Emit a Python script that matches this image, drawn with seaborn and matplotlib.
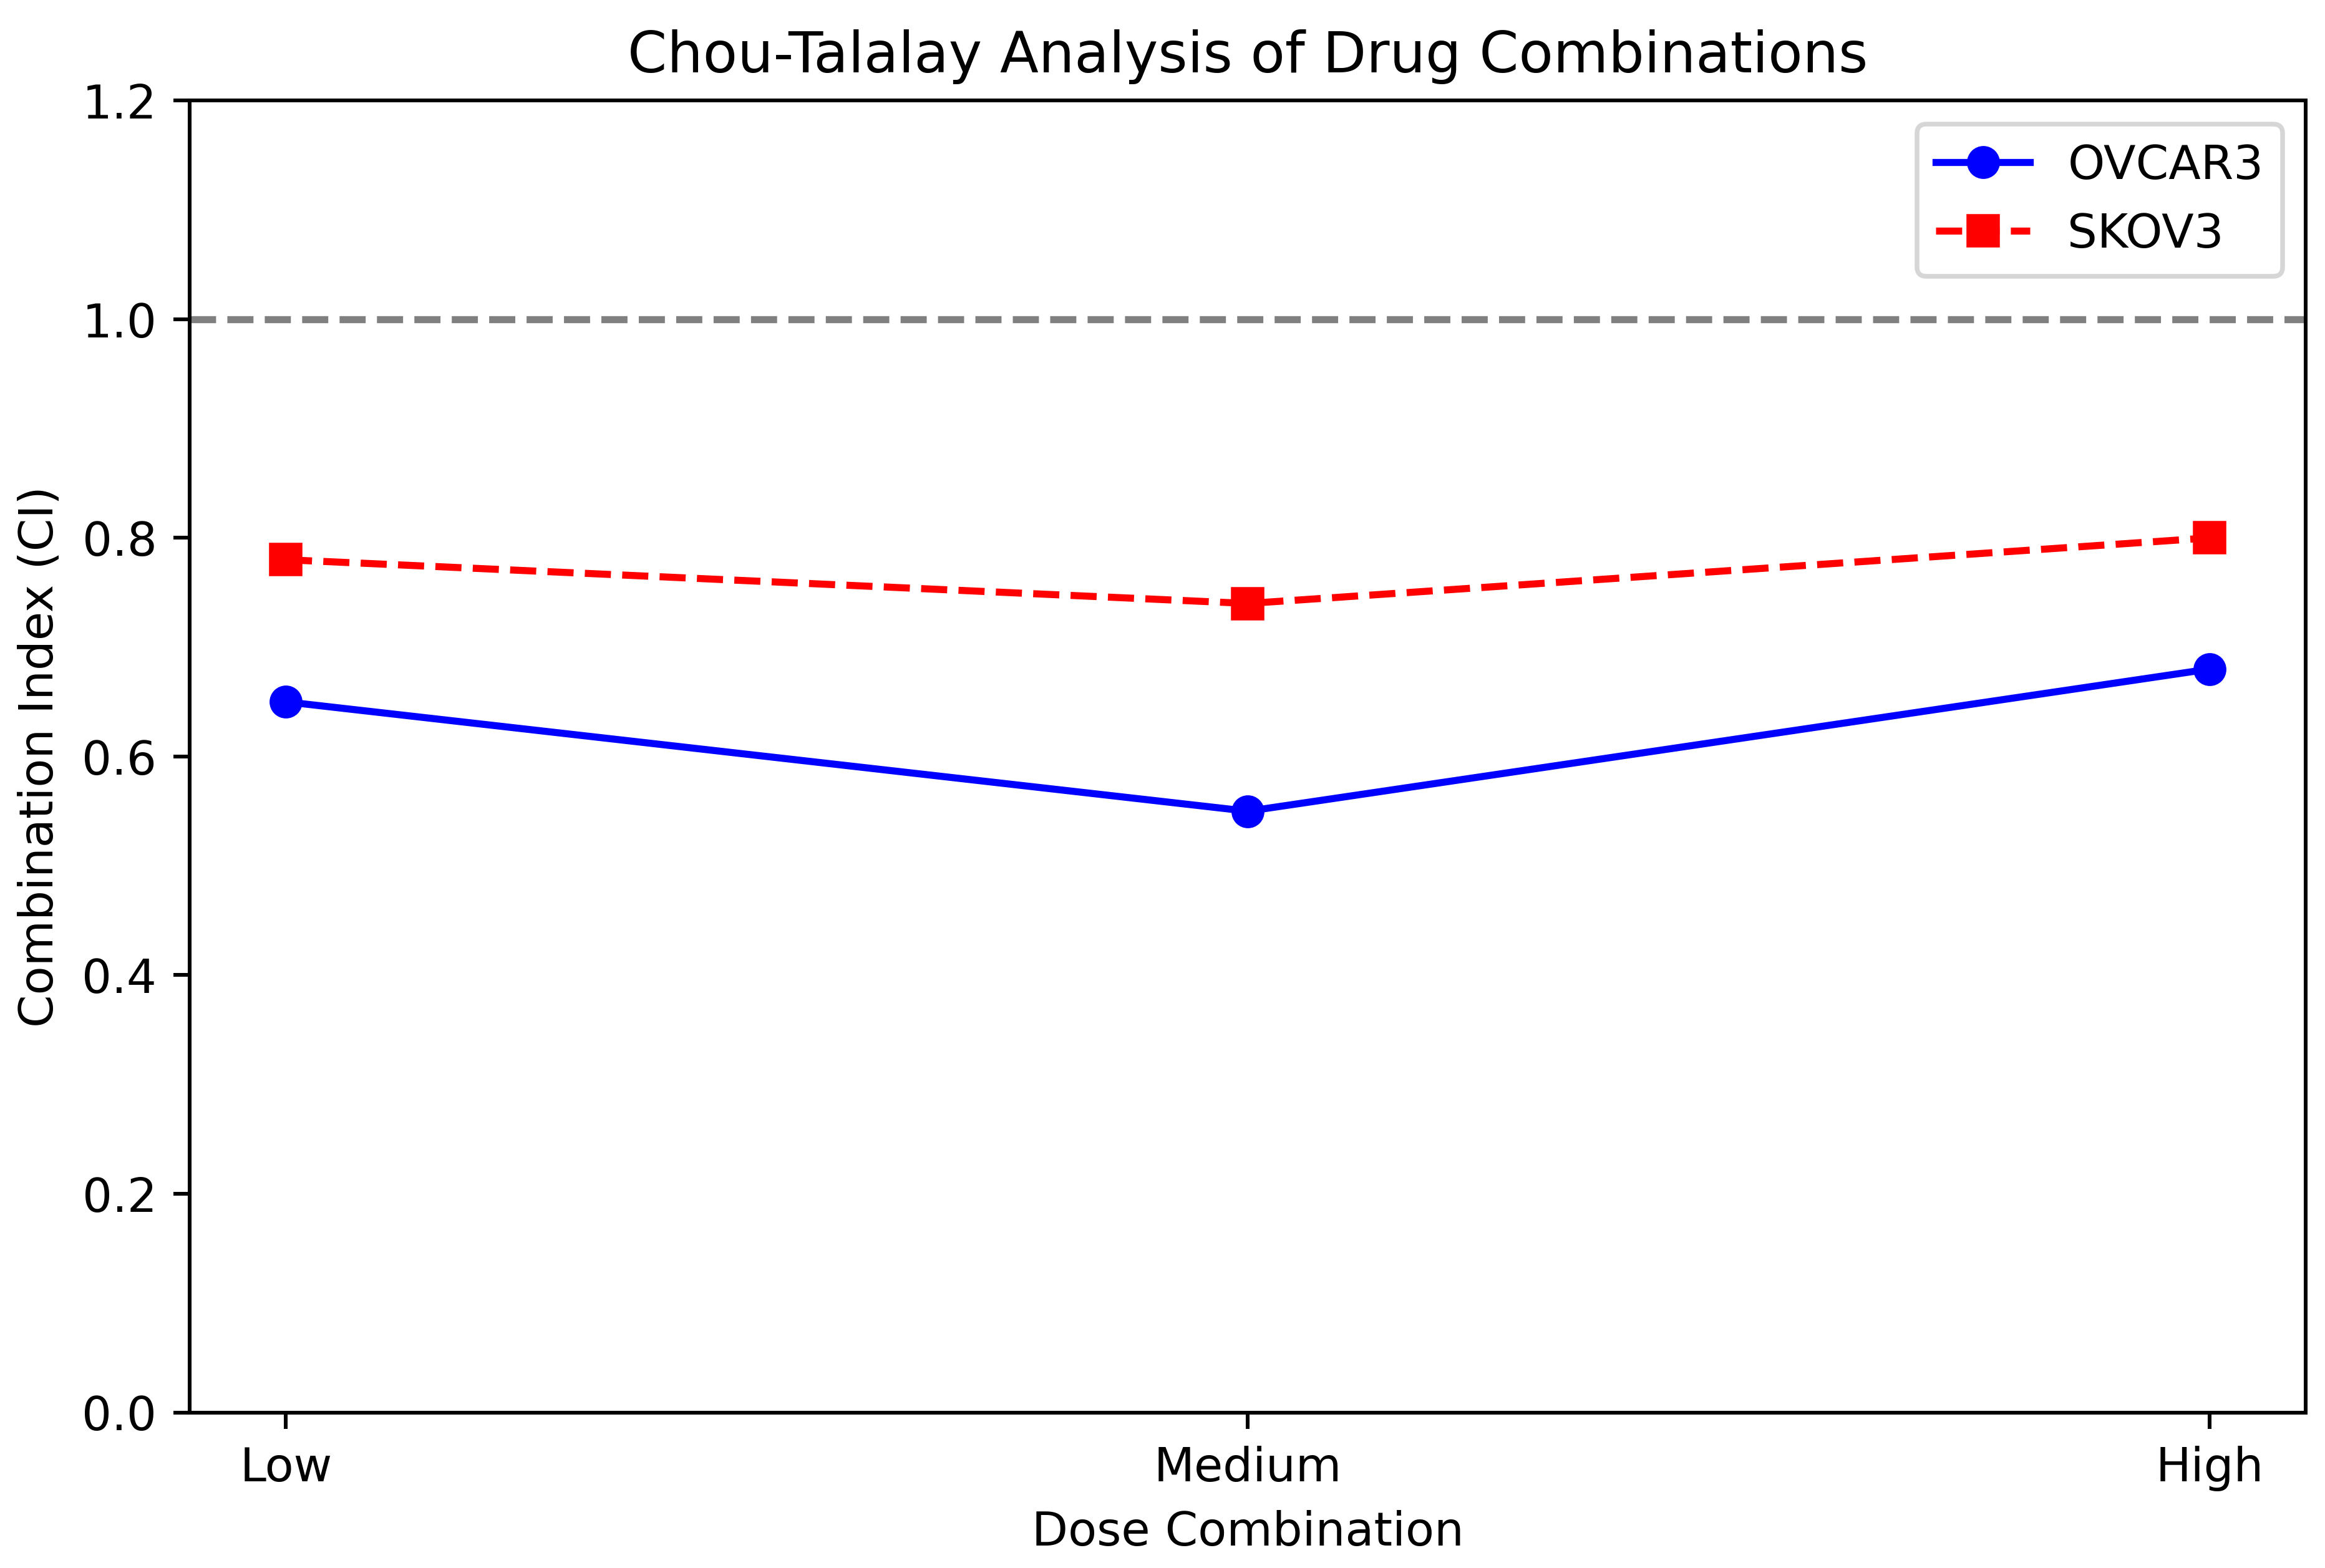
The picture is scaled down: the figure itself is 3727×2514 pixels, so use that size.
import matplotlib
matplotlib.use("Agg")
import matplotlib.pyplot as plt
import seaborn as sns

doses = ["Low", "Medium", "High"]
ovcar3_ci = [0.65, 0.55, 0.68]
skov3_ci = [0.78, 0.74, 0.80]
y_ticks = [0.0, 0.2, 0.4, 0.6, 0.8, 1.0, 1.2]

plt.rcParams['font.family'] = ['DejaVu Sans']

dpi = 543
fig = plt.figure(figsize=(3727.4 / dpi, 2514.4 / dpi), dpi=dpi)
ax = fig.add_subplot(111)
fig.subplots_adjust(left=0.0816, right=0.9917, top=0.9357, bottom=0.0992)

sns.lineplot(x=doses, y=ovcar3_ci, ax=ax, color="blue", marker="o", linestyle="-",
             markersize=6, markeredgecolor="blue", markeredgewidth=1, linewidth=1.5,
             label="OVCAR3", sort=False)
sns.lineplot(x=doses, y=skov3_ci, ax=ax, color="red", marker="s", linestyle="--",
             markersize=6, markeredgecolor="red", markeredgewidth=1, linewidth=1.5,
             label="SKOV3", sort=False)

ax.axhline(1.0, color="gray", linestyle="--", linewidth=1.5)

ax.set_ylim(0, 1.2)
ax.set_yticks(y_ticks)
ax.set_yticklabels([f"{v:.1f}" for v in y_ticks])
ax.set_title("Chou-Talalay Analysis of Drug Combinations", fontsize=12)
ax.set_xlabel("Dose Combination", fontsize=10)
ax.set_ylabel("Combination Index (CI)", fontsize=10)
ax.legend(loc="upper right", fontsize=10)

fig.savefig("out.png", dpi=dpi)
